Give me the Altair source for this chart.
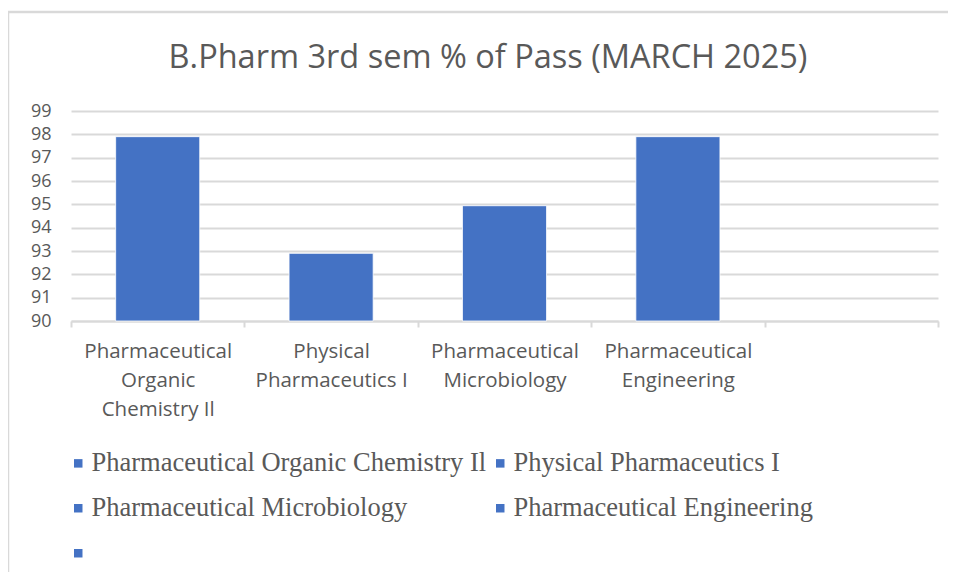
import altair as alt
import pandas as pd

title_text = "B.Pharm 3rd sem % of Pass (MARCH 2025)"
subjects = [
    "Pharmaceutical Organic Chemistry Il",
    "Physical Pharmaceutics I",
    "Pharmaceutical Microbiology",
    "Pharmaceutical Engineering",
    " ",
]
axis_labels = [
    "Pharmaceutical\nOrganic\nChemistry Il",
    "Physical\nPharmaceutics I",
    "Pharmaceutical\nMicrobiology",
    "Pharmaceutical\nEngineering",
    " ",
]
pass_pct = [97.9, 92.9, 94.94, 97.9, None]
y_ticks = list(range(90, 100))

df = pd.DataFrame({"subject": subjects, "label": axis_labels, "pct": pass_pct})

label_map = "{" + ",".join(
    f'"{s}": "{l}"'.replace("\n", "\\n") for s, l in zip(subjects, axis_labels)
) + "}"

BLUE = "#4472C4"
GRAY_TXT = "#595959"
GRID = "#d9d9d9"

x_enc = alt.X(
    "subject:N",
    sort=subjects,
    scale=alt.Scale(paddingInner=0, paddingOuter=0),
    axis=alt.Axis(
        title=None,
        labelAngle=0,
        labelExpr=f"isValid({label_map}[datum.label]) ? split({label_map}[datum.label], '\\n') : ''",
        labelFont="Open Sans",
        labelFontSize=20.5,
        labelColor=GRAY_TXT,
        labelLineHeight=29,
        labelPadding=14,
        labelBaseline="top",
        domainColor=GRID,
        domainWidth=2,
        tickColor=GRID,
        tickWidth=2,
        tickSize=6,
        tickBand="extent",
        labelLimit=300,
    ),
)

bars = alt.Chart(df).mark_bar(
    stroke="white", strokeWidth=0.8, width=alt.RelativeBandSize(0.485)
).encode(
    x=x_enc,
    y=alt.Y(
        "pct:Q",
        scale=alt.Scale(domain=[90, 99], zero=False, nice=False),
        axis=alt.Axis(
            title=None,
            values=y_ticks,
            labelFont="Open Sans",
            labelFontSize=18,
            labelColor=GRAY_TXT,
            labelPadding=20,
            domain=False,
            ticks=False,
            gridColor=GRID,
            gridWidth=2,
        ),
    ),
    y2=alt.datum(90),
    color=alt.Color(
        "subject:N",
        sort=subjects,
        scale=alt.Scale(domain=subjects, range=[BLUE] * len(subjects)),
        legend=alt.Legend(
            title=None,
            orient="none",
            direction="horizontal",
            legendX=-6,
            legendY=339,
            columns=2,
            columnPadding=0,
            rowPadding=18,
            symbolType="square",
            symbolSize=72,
            symbolStrokeWidth=0,
            labelFont="Liberation Serif",
            labelFontSize=26.5,
            labelColor=GRAY_TXT,
            labelOffset=0,
            labelLimit=600,
        ),
    ),
)

title = alt.Chart(pd.DataFrame({"t": [title_text]})).mark_text(
    font="Open Sans",
    fontSize=32.5,
    color=GRAY_TXT,
    align="center",
    baseline="alphabetic",
).encode(
    text="t:N",
    x=alt.value(417),
    y=alt.value(-43),
)

border = alt.Chart(pd.DataFrame({"a": [0]})).mark_rect(
    fill=None, stroke=GRID, strokeWidth=2.5
).encode(
    x=alt.value(-63),
    x2=alt.value(1100),
    y=alt.value(-99),
    y2=alt.value(600),
)

chart = (
    alt.layer(bars, title, border)
    .properties(
        width=867,
        height=210,
        padding={"left": 63, "top": 103, "right": 10, "bottom": 251},
        autosize=alt.AutoSizeParams(type="none"),
    )
    .configure_view(stroke=None)
)

chart.save("out.html", embed_options={"renderer": "svg", "actions": False})
